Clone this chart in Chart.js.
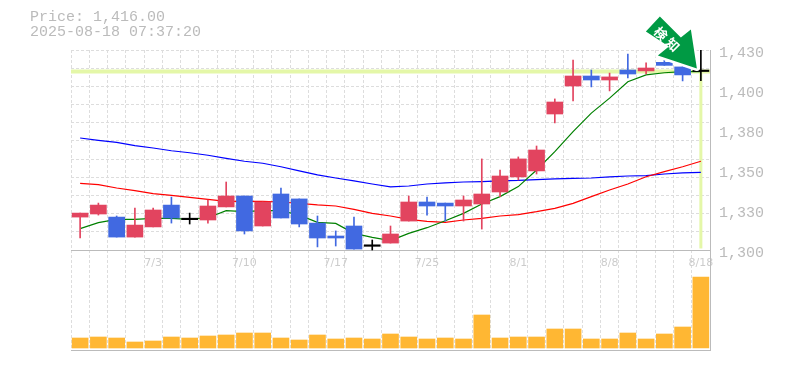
<!DOCTYPE html>
<html>
<head>
<meta charset="utf-8">
<title>Price chart</title>
<script src="https://cdn.jsdelivr.net/npm/chart.js@4"></script>
<style>
    body { margin: 0; background: #fff; }
    #wrap { position: relative; width: 785px; height: 370px; }
    #info { position: absolute; left: 30px; top: 10px; font: 15px/15px "Liberation Mono", monospace; color: #bbb; white-space: pre; }
</style>
</head>
<body>
<div id="wrap">
    <div id="info"></div>
    <canvas id="myChart" width="785" height="370"></canvas>
</div>
<script>
const headerLines = ['Price: 1,416.00', '2025-08-18 07:37:20'];
const arrowText = ['検', '知'];
const lastPrice = 1416;

const categories = ['6/27', '6/30', '7/1', '7/2', '7/3', '7/4', '7/7', '7/8', '7/9', '7/10', '7/11', '7/14', '7/15', '7/16', '7/17', '7/18', '7/22', '7/23', '7/24', '7/25', '7/28', '7/29', '7/30', '7/31', '8/1', '8/4', '8/5', '8/6', '8/7', '8/8', '8/12', '8/13', '8/14', '8/15', '8/18'];
const dateLabels = ['7/3', '7/10', '7/17', '7/25', '8/1', '8/8', '8/18'];
const priceTicks = [1300, 1326, 1352, 1378, 1404, 1430];
const priceLabels = ['1,300', '1,330', '1,350', '1,380', '1,400', '1,430'];

const open = [1321.4, 1323.4, 1321.4, 1308.4, 1315, 1329.2, 1319.7, 1319.5, 1328, 1335.1, 1315.6, 1336.4, 1333.2, 1317.5, 1309.1, 1315.6, 1302.4, 1304.5, 1318.8, 1331.2, 1330.5, 1328.6, 1329.9, 1337.7, 1347.5, 1351.4, 1388.4, 1406.6, 1413.1, 1410.5, 1417, 1416.4, 1422, 1419, 1416];
const close = [1324, 1329.2, 1308.4, 1316.2, 1326, 1320.8, 1319.7, 1328.6, 1335.1, 1312.4, 1331.2, 1320.8, 1316.9, 1307.8, 1307.8, 1300.6, 1302.4, 1310.4, 1331.2, 1328.6, 1328.6, 1332.5, 1336.4, 1348.1, 1359.2, 1365, 1396.2, 1413.1, 1410.5, 1412.5, 1414.4, 1418.3, 1420, 1413.8, 1416];
const high = [1324, 1330.5, 1322.1, 1327.3, 1327.3, 1334.4, 1324, 1332.5, 1344.2, 1335.1, 1331.2, 1340.3, 1333.2, 1322.1, 1312.4, 1321.4, 1306.5, 1315.6, 1335.1, 1334.4, 1330.5, 1335.1, 1359.2, 1352, 1360.5, 1367.6, 1398.2, 1423.5, 1417, 1415, 1427.4, 1421.6, 1427, 1422, 1430];
const low = [1307.8, 1322.7, 1308.4, 1308.4, 1315, 1317.5, 1316.9, 1317.5, 1328, 1310.4, 1315.6, 1320.8, 1315, 1302, 1302.6, 1300.6, 1300, 1304.5, 1318.8, 1322.7, 1318.8, 1318.8, 1313.6, 1334.7, 1345.5, 1349.4, 1382.6, 1396.9, 1406, 1403.4, 1411.8, 1414.4, 1420, 1409.9, 1410];

const maShort = [1313.9, 1317.8, 1319.9, 1319.9, 1320.6, 1320.6, 1319.9, 1321, 1325.6, 1324.9, 1325.6, 1325.6, 1322.7, 1318, 1317.3, 1310.8, 1308.2, 1306.1, 1310.8, 1314.5, 1319, 1323.8, 1329.9, 1334.7, 1341.2, 1352, 1363.9, 1376.9, 1389, 1398.7, 1409.4, 1413.8, 1415.2, 1415.9, 1416];
const maMid = [1343.3, 1342.5, 1340.3, 1338.6, 1336.6, 1335.5, 1334.2, 1332.9, 1331.6, 1331.6, 1331.6, 1331.2, 1330.3, 1329.3, 1328.6, 1326.4, 1323.8, 1322.1, 1319.9, 1318.6, 1318, 1319.5, 1320.6, 1322.1, 1323, 1324.9, 1327.1, 1330.3, 1334.7, 1339, 1342.9, 1347.6, 1350.9, 1354.1, 1357.7];
const maLong = [1372.8, 1371.3, 1370, 1367.8, 1366.3, 1364.5, 1363.2, 1361.6, 1359.6, 1357.7, 1356.4, 1354.1, 1351.4, 1348.8, 1346.8, 1344.9, 1342.9, 1341, 1341.6, 1342.9, 1343.6, 1344.2, 1344.5, 1344.9, 1345.2, 1345.8, 1346.2, 1346.5, 1346.8, 1347.5, 1348.1, 1348.4, 1349.4, 1350.1, 1350.4];

const volume = [10, 11, 10, 6, 7, 11, 10, 12, 13, 15, 15, 10, 8, 13, 9, 10, 9, 14, 11, 9, 10, 9, 33, 10, 11, 11, 19, 19, 9, 9, 15, 9, 14, 21, 71];

const upColor = '#e2445f';
const downColor = '#4169e1';
const gridColor = '#dddddd';
const axisColor = '#bbbbbb';
const guideColor = '#e4f7a8';

document.getElementById('info').textContent = headerLines.join('\n');

function candleColor(ctx) {
    const i = ctx.dataIndex;
    if (open[i] === close[i]) return '#000000';
    return close[i] > open[i] ? upColor : downColor;
}

// current price guides and the green arrow pointing at the last candle
const overlayPlugin = {
    id: 'overlay',
    beforeDatasetsDraw(chart) {
        const { ctx, chartArea, scales } = chart;
        const px = scales.x.getPixelForValue(categories.length - 1);
        const py = scales.y.getPixelForValue(lastPrice);
        ctx.save();
        ctx.strokeStyle = guideColor;
        ctx.lineWidth = 4;
        ctx.beginPath();
        ctx.moveTo(chartArea.left, py);
        ctx.lineTo(chartArea.right, py);
        ctx.stroke();
        ctx.lineWidth = 3;
        ctx.beginPath();
        ctx.moveTo(px, py);
        ctx.lineTo(px, scales.y.getPixelForValue(1301));
        ctx.stroke();
        ctx.restore();
    },
    afterDatasetsDraw(chart) {
        const { ctx, scales } = chart;
        const px = scales.x.getPixelForValue(categories.length - 1);
        const py = scales.y.getPixelForValue(lastPrice);
        const shape = [[-41, -55], [-20, -34], [-10, -42], [-4, -3], [-43, -16], [-32, -25], [-55, -40]];
        ctx.save();
        ctx.beginPath();
        shape.forEach((p, i) => {
            if (i === 0) ctx.moveTo(px + p[0], py + p[1]);
            else ctx.lineTo(px + p[0], py + p[1]);
        });
        ctx.closePath();
        // the marker carries a white halo over whatever is under it
        ctx.strokeStyle = '#ffffff';
        ctx.lineWidth = 5;
        ctx.lineJoin = 'round';
        ctx.stroke();
        ctx.fillStyle = '#009a44';
        ctx.fill();
        ctx.fillStyle = '#ffffff';
        ctx.font = 'bold 13px "Noto Sans CJK JP"';
        ctx.textAlign = 'center';
        ctx.textBaseline = 'middle';
        arrowText.forEach((ch, i) => {
            ctx.save();
            ctx.translate(px - 40 + i * 12, py - 38 + i * 11);
            ctx.rotate(Math.PI / 4);
            ctx.fillText(ch, 0, 0);
            ctx.restore();
        });
        ctx.restore();
    }
};

new Chart(document.getElementById('myChart'), {
    data: {
        labels: categories,
        datasets: [
            {
                type: 'bar',
                data: open.map((v, i) => [v, close[i]]),
                backgroundColor: candleColor,
                barThickness: 16,
                minBarLength: 1.5,
                grouped: false,
                order: 1
            },
            {
                type: 'bar',
                data: low.map((v, i) => [v, high[i]]),
                backgroundColor: candleColor,
                barThickness: 1,
                grouped: false,
                order: 2
            },
            { type: 'line', data: maShort, borderColor: '#008000', borderWidth: 1.2, pointRadius: 0, order: 3 },
            { type: 'line', data: maMid, borderColor: '#ff0000', borderWidth: 1.2, pointRadius: 0, order: 4 },
            { type: 'line', data: maLong, borderColor: '#0000ff', borderWidth: 1.2, pointRadius: 0, order: 5 },
            {
                type: 'bar',
                data: volume,
                yAxisID: 'yVol',
                backgroundColor: '#ffb733',
                barThickness: 16,
                grouped: false,
                order: 6
            }
        ]
    },
    options: {
        responsive: false,
        animation: false,
        layout: { padding: { left: 71, top: 50, bottom: 20, right: 0 } },
        plugins: { legend: { display: false }, tooltip: { enabled: false } },
        scales: {
            x: {
                type: 'category',
                offset: true,
                position: { y: 1300 },
                grid: { color: gridColor, offset: true, drawTicks: false },
                border: { color: axisColor, dash: [3, 2], width: 1 },
                ticks: {
                    autoSkip: false,
                    maxRotation: 0,
                    padding: 7,
                    color: '#cccccc',
                    font: { family: 'DejaVu Sans', size: 11 },
                    callback(value) {
                        const label = this.getLabelForValue(value);
                        return dateLabels.includes(label) ? label : '';
                    }
                }
            },
            xBottom: {
                type: 'category',
                axis: 'x',
                labels: categories,
                offset: true,
                position: 'bottom',
                grid: { display: false, drawTicks: false },
                border: { color: axisColor, width: 1 },
                ticks: { display: false }
            },
            y: {
                position: 'right',
                min: 1235,
                max: 1430,
                afterBuildTicks(scale) {
                    const gridTicks = [];
                    for (let i = 0; i <= 11; i++) gridTicks.push({ value: 1300 + i * 130 / 11 });
                    scale.ticks = gridTicks;
                },
                grid: { color: gridColor, drawTicks: false },
                border: { display: false, dash: [3, 2] },
                ticks: { display: false }
            },
            yLabels: {
                position: 'right',
                min: 1235,
                max: 1430,
                afterBuildTicks(scale) {
                    // labels sit a little under their value
                    scale.ticks = priceTicks.map(v => ({ value: v - 1.8 }));
                },
                afterFit(scale) {
                    scale.width = 75;
                },
                grid: { display: false, drawTicks: false },
                border: { color: axisColor, width: 1 },
                ticks: {
                    padding: 9,
                    color: '#bbbbbb',
                    font: { family: 'Liberation Mono', size: 15 },
                    callback(value, index) {
                        return priceLabels[index];
                    }
                }
            },
            yVol: {
                display: false,
                min: -2,
                max: 298
            }
        }
    },
    plugins: [overlayPlugin]
});
</script>
</body>
</html>
